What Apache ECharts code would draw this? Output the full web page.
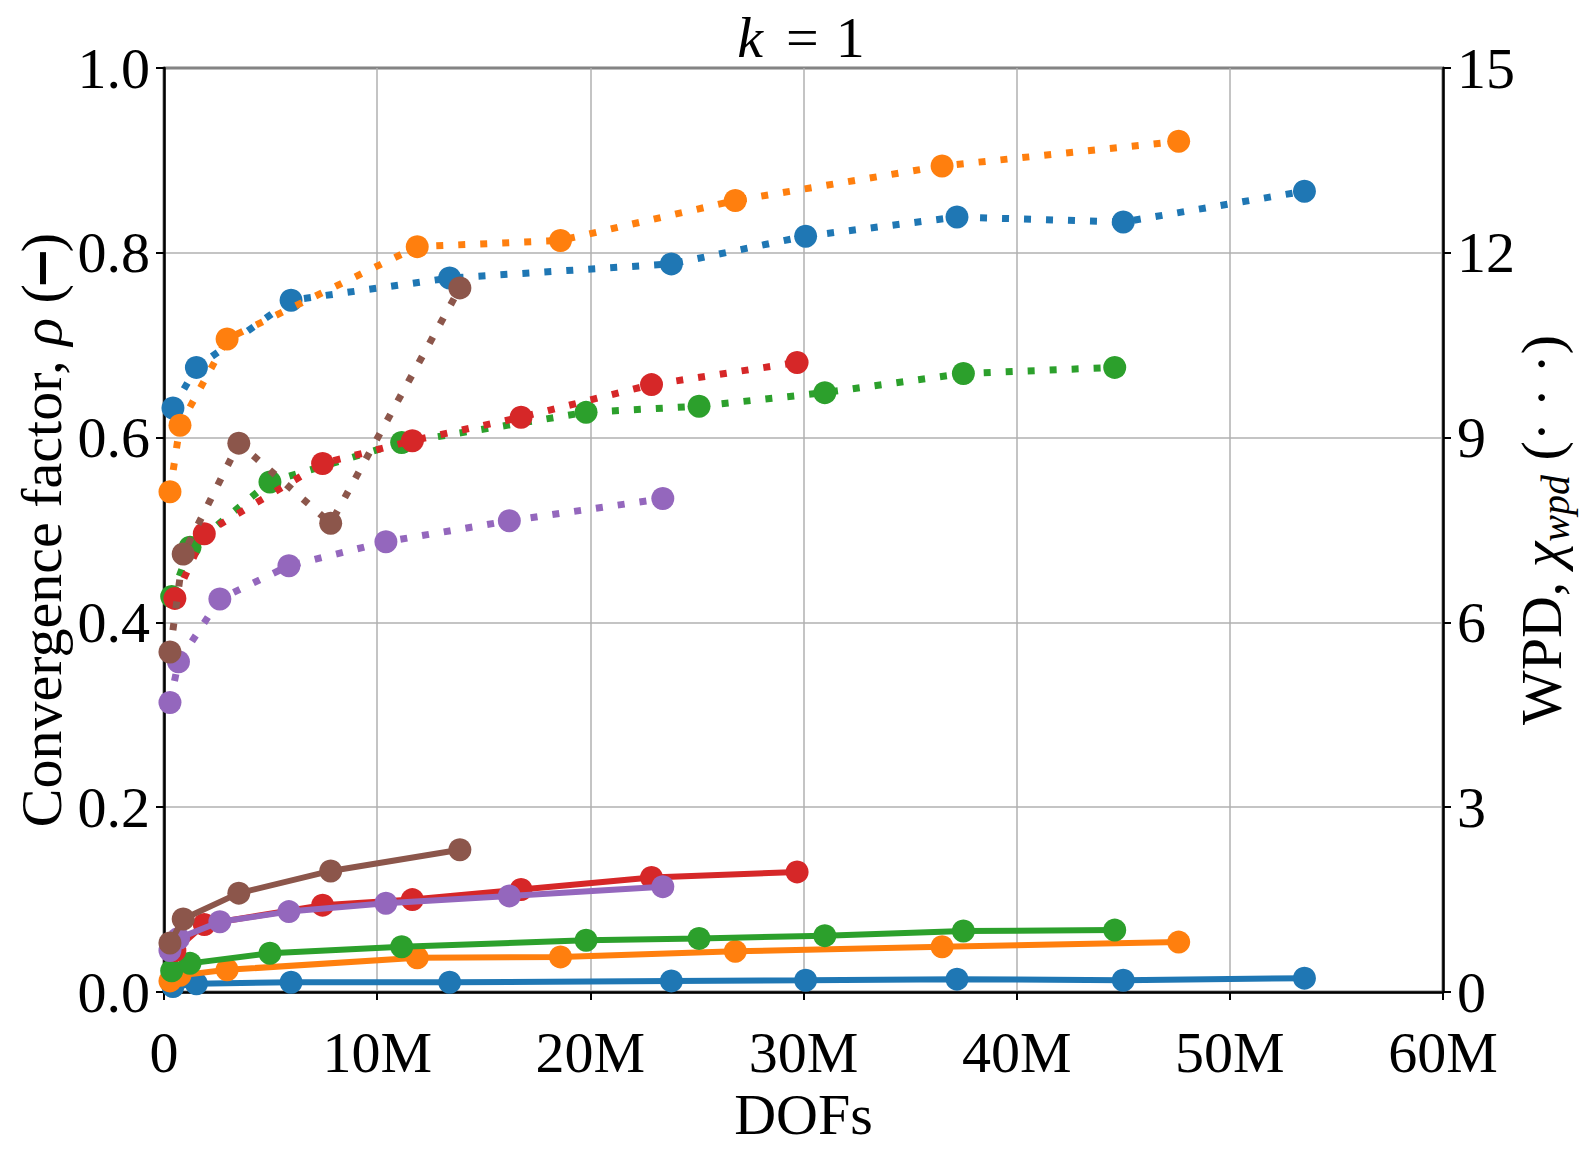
<!DOCTYPE html>
<html>
<head>
<meta charset="utf-8">
<script src="https://cdn.jsdelivr.net/npm/echarts@6/dist/echarts.min.js"></script>
<style>
  html, body { margin: 0; padding: 0; background: #fff; }
  #chart { width: 1596px; height: 1154px; }
</style>
</head>
<body>
<div id="chart"></div>
<script>
// DOFs in millions, rho on the left axis (solid), WPD on the right axis (dotted)
const blueDofs = [0.42, 1.52, 5.96, 13.4, 23.8, 30.1, 37.2, 45.0, 53.5];
const blueRho = [0.006, 0.009, 0.0105, 0.0105, 0.012, 0.0128, 0.0139, 0.0128, 0.015];
const blueWpd = [9.48, 10.14, 11.23, 11.59, 11.82, 12.27, 12.58, 12.50, 13.0];

const orangeDofs = [0.28, 0.75, 2.96, 11.88, 18.6, 26.8, 36.5, 47.6];
const orangeRho = [0.012, 0.018, 0.024, 0.037, 0.038, 0.044, 0.049, 0.054];
const orangeWpd = [8.12, 9.20, 10.60, 12.10, 12.20, 12.85, 13.41, 13.81];

const greenDofs = [0.36, 1.22, 4.97, 11.15, 19.8, 25.1, 31.0, 37.5, 44.6];
const greenRho = [0.023, 0.031, 0.042, 0.049, 0.056, 0.058, 0.061, 0.066, 0.067];
const greenWpd = [6.42, 7.22, 8.28, 8.92, 9.41, 9.51, 9.73, 10.04, 10.14];

const redDofs = [0.51, 1.89, 7.44, 11.65, 16.75, 22.87, 29.7];
const redRho = [0.045, 0.073, 0.094, 0.100, 0.111, 0.124, 0.130];
const redWpd = [6.39, 7.44, 8.58, 8.95, 9.33, 9.86, 10.22];

const purpleDofs = [0.28, 0.68, 2.62, 5.86, 10.41, 16.2, 23.4];
const purpleRho = [0.045, 0.058, 0.076, 0.087, 0.096, 0.104, 0.114];
const purpleWpd = [4.70, 5.36, 6.38, 6.92, 7.31, 7.65, 8.01];

const brownDofs = [0.28, 0.90, 3.51, 7.82, 13.88];
const brownRho = [0.053, 0.079, 0.107, 0.131, 0.154];
const brownWpd = [5.52, 7.11, 8.91, 7.61, 11.43];

const xTicks = [0, 10, 20, 30, 40, 50, 60];

const runs = [
    { color: '#1f77b4', dofs: blueDofs, rho: blueRho, wpd: blueWpd },
    { color: '#ff7f0e', dofs: orangeDofs, rho: orangeRho, wpd: orangeWpd },
    { color: '#2ca02c', dofs: greenDofs, rho: greenRho, wpd: greenWpd },
    { color: '#d62728', dofs: redDofs, rho: redRho, wpd: redWpd },
    { color: '#9467bd', dofs: purpleDofs, rho: purpleRho, wpd: purpleWpd },
    { color: '#8c564b', dofs: brownDofs, rho: brownRho, wpd: brownWpd }
];

const font = 'Liberation Serif';
const fs = 58;

function makeSeries(run, values, axis, dotted, z) {
    return {
        type: 'line',
        yAxisIndex: axis,
        data: run.dofs.map((x, i) => [x, values[i]]),
        symbol: 'circle',
        symbolSize: 23,
        z: z,
        itemStyle: { color: run.color, borderWidth: 0 },
        lineStyle: {
            color: run.color,
            width: dotted ? 7 : 6,
            type: dotted ? [7, 15] : 'solid',
            cap: 'butt'
        },
        emphasis: { disabled: true }
    };
}

const series = [];
runs.forEach((r, i) => series.push(makeSeries(r, r.rho, 0, false, 2 + i)));
runs.forEach((r, i) => series.push(makeSeries(r, r.wpd, 1, true, 10 + i)));

// mixed upright/italic labels laid out piece by piece as graphic texts
const measureCtx = document.createElement('canvas').getContext('2d');
function cssFont(p) {
    return (p.italic ? 'italic ' : 'normal ') + (p.size || fs) + 'px "' + font + '", serif';
}
function textRow(pieces, x, y, rotation) {
    const widths = pieces.map(p => {
        if (p.bar) return p.bar[0];
        measureCtx.font = cssFont(p);
        return measureCtx.measureText(p.text).width + (p.gap || 0);
    });
    const total = widths.reduce((a, b) => a + b, 0);
    let cx = -total / 2;
    const children = pieces.map((p, i) => {
        const el = p.bar
            ? { type: 'rect', shape: { x: cx, y: (p.dy || 0) - p.bar[1] / 2, width: p.bar[0], height: p.bar[1] }, style: { fill: '#000' } }
            : {
                type: 'text', x: cx + (p.gap || 0) / 2, y: p.dy || 0,
                style: { text: p.text, fill: '#000', font: cssFont(p), align: 'left', verticalAlign: 'middle' }
            };
        cx += widths[i];
        return el;
    });
    return { type: 'group', x: x, y: y, rotation: rotation, silent: true, children: children };
}

const titleRow = textRow([
    { text: 'k', italic: true, gap: 12 },
    { text: '=', gap: 34 },
    { text: '1' }
], 798, 37, 0);

const leftName = textRow([
    { text: 'Convergence factor, ' },
    { text: 'ρ', italic: true },
    { text: ' (' },
    { bar: [32, 6], dy: 2 },
    { text: ')' }
], 41, 530, Math.PI / 2);

const rightName = textRow([
    { text: 'WPD, ' },
    { text: 'χ', italic: true },
    { text: 'wpd', italic: true, size: 40, dy: 14 },
    { text: ' (· · ·)' }
], 1541, 530, Math.PI / 2);

const axisCommon = {
    axisLine: { show: true, lineStyle: { color: '#000', width: 2.5 } },
    axisTick: { show: true, inside: false, length: 8, lineStyle: { color: '#000', width: 2 } }
};

const chart = echarts.init(document.getElementById('chart'), null, { renderer: 'svg' });
chart.setOption({
    animation: false,
    backgroundColor: '#fff',
    textStyle: { fontFamily: font, fontSize: fs, color: '#000' },
    graphic: [titleRow, leftName, rightName],
    grid: {
        left: 164, right: 153, top: 68, bottom: 162,
        show: true, borderColor: '#000', borderWidth: 2.5
    },
    xAxis: {
        ...axisCommon,
        type: 'value',
        min: 0, max: 60, interval: 10,
        name: 'DOFs',
        nameLocation: 'middle',
        nameGap: 88,
        nameTextStyle: { fontFamily: font, fontSize: fs, color: '#000' },
        splitLine: { show: true, lineStyle: { color: '#b0b0b0', width: 1.5 } },
        axisLabel: {
            fontFamily: font, fontSize: fs, color: '#000', margin: 31,
            customValues: xTicks,
            formatter: v => (v === 0 ? '0' : v + 'M')
        }
    },
    yAxis: [
        {
            ...axisCommon,
            type: 'value',
            position: 'left',
            min: 0, max: 1, interval: 0.2,
            splitLine: { show: true, lineStyle: { color: '#b0b0b0', width: 1.5 } },
            axisLabel: {
                fontFamily: font, fontSize: fs, color: '#000', margin: 14,
                formatter: v => v.toFixed(1)
            }
        },
        {
            ...axisCommon,
            type: 'value',
            position: 'right',
            min: 0, max: 15, interval: 3,
            splitLine: { show: false },
            axisLabel: {
                fontFamily: font, fontSize: fs, color: '#000', margin: 14
            }
        }
    ],
    series: series
});
</script>
</body>
</html>
